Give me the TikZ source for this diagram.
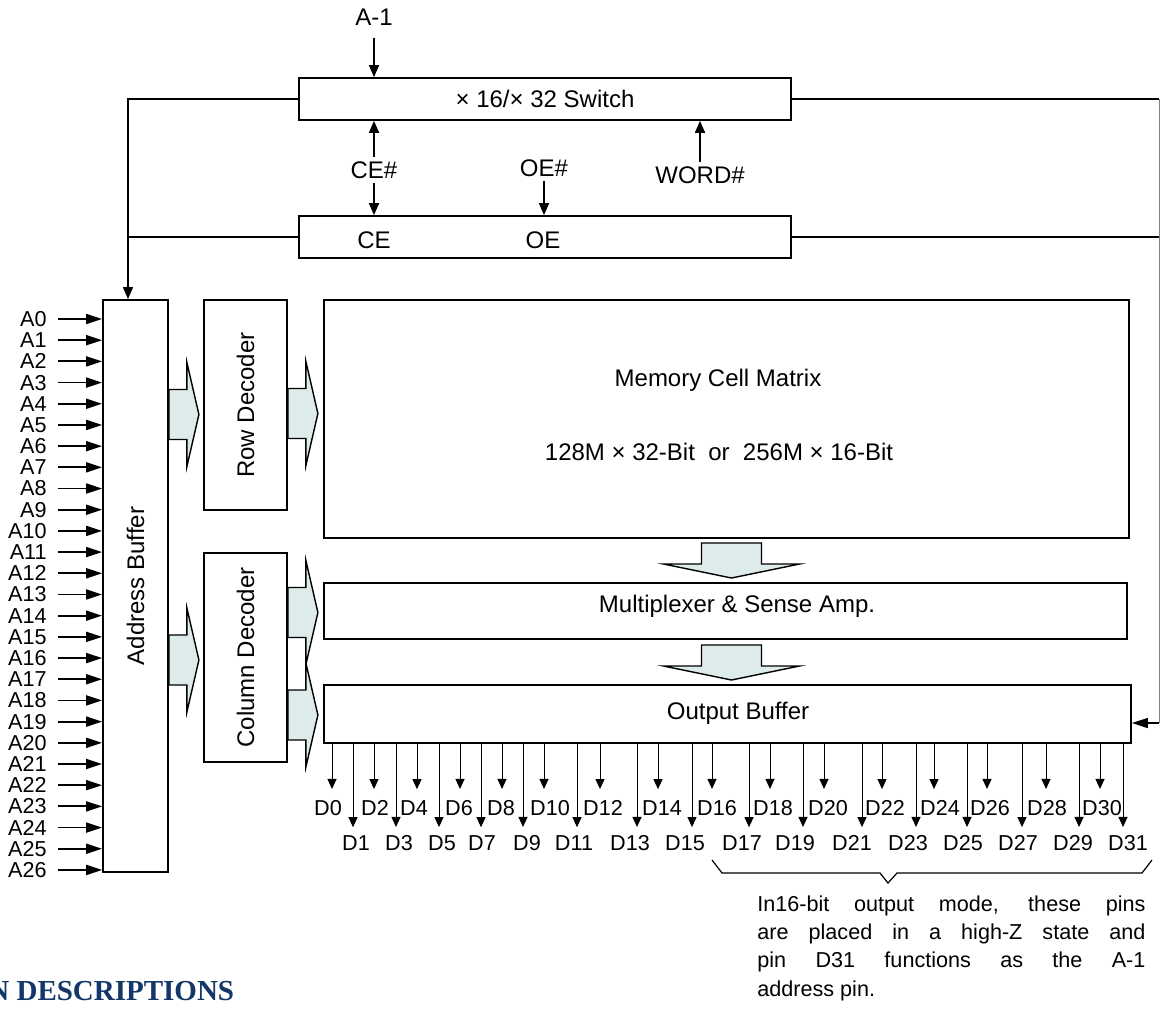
\documentclass[tikz,border=0pt]{standalone}
\usepackage{fontspec}
\setmainfont{Liberation Sans}
\newfontfamily\headfont{Liberation Serif}
\usetikzlibrary{arrows.meta,positioning,calc}
\definecolor{busfill}{RGB}{221,235,235}
\definecolor{headblue}{RGB}{18,55,104}

\begin{document}
\begin{tikzpicture}[
  x=0.5pt, y=-0.5pt,
  every node/.style={font=\fontsize{12}{14}\selectfont, inner sep=2pt},
  blk/.style={draw, line width=0.9pt, inner sep=0pt},
  sig/.style={line width=0.9pt, -{Triangle[length=6pt,width=5pt]}},
  ain/.style={line width=0.9pt, -{Triangle[length=8pt,width=5pt]}},
  pin/.style={line width=0.5pt, -{Triangle[length=5pt,width=4.5pt]}},
  wire/.style={line width=0.7pt},
  pinlab/.style={font=\fontsize{10.8}{14.2}\selectfont, inner sep=1pt},
  vlab/.style={rotate=90},
  rbus/.pic={\draw[line width=0.7pt, fill=busfill] (0,-25) -- (18,-25) -- (18,-52) -- (30,0) -- (18,52) -- (18,25) -- (0,25) -- cycle;},
  dbus/.pic={\draw[line width=0.7pt, fill=busfill] (-30,0) -- (30,0) -- (30,21) -- (68,21) -- (0,35) -- (-68,21) -- (-30,21) -- cycle;},
]
  \useasboundingbox (0,0) rectangle (1160,1013);

  % control blocks
  \node[blk, minimum width=246pt, minimum height=21pt] (sw) at (545,99) {× 16/× 32 Switch};
  \node[blk, minimum width=246pt, minimum height=21pt] (ctl) at (545,237) {};
  \node (ce) at (374,240) {CE};
  \node (oe) at (543,240) {OE};

  \node (am1) at (374,17) {A-1};
  \node (ceh) at (374,170) {CE\#};
  \node (oeh) at (544,168) {OE\#};
  \node (word) at (700,175) {WORD\#};

  % array blocks
  \node[blk, minimum width=32.5pt, minimum height=286pt] (ab) at (135.5,586) {};
  \node[vlab] at (ab.center) {Address Buffer};
  \node[blk, minimum width=41.5pt, minimum height=105pt] (rd) at (245.5,405) {};
  \node[vlab] at (rd.center) {Row Decoder};
  \node[blk, minimum width=41.5pt, minimum height=104.5pt] (cd) at (245.5,657.5) {};
  \node[vlab] at (cd.center) {Column Decoder};
  \node[blk, minimum width=402.5pt, minimum height=119pt] (mcm) at (726.5,419) {};
  \node (mtitle) at (718,380) {Memory Cell Matrix};
  \node (msize) at (719,452) {128M × 32-Bit\ \ or\ \ 256M × 16-Bit};
  \node[blk, minimum width=401.5pt, minimum height=28pt] (mux) at (725.5,611) {};
  \node (muxlab) at (737,606) {Multiplexer \& Sense Amp.};
  \node[blk, minimum width=403.5pt, minimum height=29pt] (ob) at (727.5,714) {};
  \node (oblab) at (738,713) {Output Buffer};

  % control signals
  \draw[sig, shorten <=4pt] (am1.south) -- (am1.south |- sw.north);
  \draw[sig] (ceh.north) -- (ceh.north |- sw.south);
  \draw[sig] (ceh.south) -- (ceh.south |- ctl.north);
  \draw[sig] (oeh.south) -- (oeh.south |- ctl.north);
  \draw[sig] (word.north) -- (word.north |- sw.south);

  % side buses
  \coordinate (lb) at (128,0);
  \coordinate (rb) at (1159,0);
  \draw[wire, -{Triangle[length=6pt,width=5pt]}] (sw.west) -| (lb |- ab.north);
  \draw[wire] (ctl.west) -- (lb |- ctl.west);
  \draw[wire] (sw.east) -- (rb |- sw.east);
  \draw[wire] (ctl.east) -- (rb |- ctl.east);
  \draw[line width=0.5pt, gray] (rb |- sw.east) -- (rb |- 0,723);
  \draw[wire, -{Triangle[length=8pt,width=5pt]}] (rb |- 0,723) -- (ob.east |- 0,723);

  % block arrows
  \pic at (ab.east |- 0,414.5) {rbus};
  \pic at (rd.east |- 0,413.5) {rbus};
  \pic at (ab.east |- 0,660) {rbus};
  \pic at (cd.east |- 0,612.5) {rbus};
  \pic at (cd.east |- 0,715) {rbus};
  \pic at (731.5,543) {dbus};
  \pic at (731.5,645) {dbus};

  % address pins
  \foreach \i in {0,...,26}{
    \node[pinlab, anchor=east] (a\i) at (49, 319+21.19*\i) {A\i};
    \draw[ain, shorten <=4.5pt] (a\i.east) -- (ab.west |- a\i.east);
  }

  % data pins
  \foreach \n/\px/\lx in {0/332/328, 2/374/375, 4/417/414, 6/460/459, 8/502/501,
      10/544/550, 12/600/603, 14/658/662, 16/712/717, 18/770/773, 20/824/828,
      22/882/885, 24/934/940, 26/987/990, 28/1046/1047, 30/1100/1102}{
    \node[pinlab] (d\n) at (\lx,808) {D\n};
    \draw[pin, shorten >=4.5pt] (ob.south -| \px,0) -- (d\n.north -| \px,0);
  }
  \foreach \n/\px/\lx in {1/353/356, 3/396/399, 5/439/442, 7/481/482, 9/523/527,
      11/577/574, 13/637/630, 15/692/685, 17/749/742, 19/803/795, 21/862/852,
      23/916/908, 25/967/963, 27/1022/1018, 29/1079/1073, 31/1123/1128}{
    \node[pinlab] (d\n) at (\lx,843) {D\n};
    \draw[pin, shorten >=3pt] (ob.south -| \px,0) -- (d\n.north -| \px,0);
  }

  % upper half note
  \draw[line width=0.6pt] (712,860) -- (722,873) -- (880,873) -- (888,883)
    -- (897,873) -- (1142,873) -- (1152,860);
  \node[pinlab, anchor=north west, inner sep=0pt, text width=194pt, align=justify] (note) at (757,895)
    {In16-bit output mode, these pins\linebreak are placed in a high-Z state and\linebreak
     pin D31 functions as the A-1\linebreak address pin.};

  \node[anchor=base west, inner sep=0pt, font=\headfont\bfseries\fontsize{14.5}{17}\selectfont,
    text=headblue] (pinhd) at (-12,1000) {N DESCRIPTIONS};
\end{tikzpicture}
\end{document}
